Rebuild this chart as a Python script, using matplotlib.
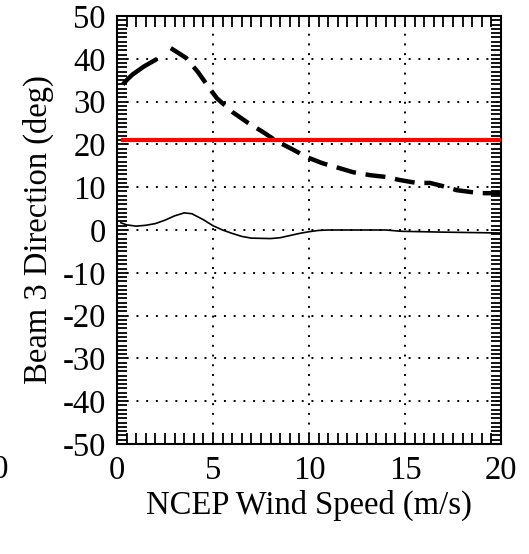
import numpy as np
import matplotlib
matplotlib.use('Agg')
import matplotlib.pyplot as plt
from matplotlib.ticker import MultipleLocator

plt.rcParams['font.family'] = 'Liberation Serif'
plt.rcParams['axes.unicode_minus'] = False

# dashed curve
dash_x = [0.3, 0.5, 0.8, 1.4, 2.1, 2.8, 3.6, 4.2, 4.8, 5.2, 6.0, 6.8, 7.6, 8.3, 9.2,
          9.9, 10.7, 11.4, 12.3, 13.2, 14.0, 14.7, 15.6, 16.3, 17.2, 17.7, 18.9, 20.0]
dash_y = [34.0, 35.0, 36.3, 38.2, 40.0, 42.5, 40.2, 37.0, 33.2, 30.8, 27.6, 25.1, 22.9, 20.8, 18.7,
          17.0, 15.6, 14.7, 13.5, 12.8, 12.4, 11.7, 11.0, 11.0, 10.0, 9.3, 8.6, 8.6]

# thin solid curve
solid_x = [0.2, 0.5, 1.0, 1.5, 2.0, 2.5, 3.0, 3.5, 3.9, 4.5, 5.0, 5.5, 6.0, 6.5, 7.0,
           8.0, 8.5, 9.0, 9.5, 10.0, 10.5, 11.0, 14.0, 14.8, 17.0, 20.0]
solid_y = [1.7, 1.2, 0.9, 1.1, 1.5, 2.3, 3.3, 4.0, 3.8, 2.4, 1.0, 0.0, -0.8, -1.5, -1.9,
           -2.0, -1.8, -1.3, -0.8, -0.4, -0.1, 0.0, 0.0, -0.3, -0.5, -0.7]

# red reference line
ref_level = 21
ref_x = [0.3, 20.0]

fig = plt.figure(figsize=(5.29, 5.54), dpi=100)
ax = fig.add_axes([117/529, 1-444/554, 384/529, 428/554])

# first piece of the dashed curve is drawn unbroken
ax.plot(dash_x[:5], dash_y[:5], color='black', lw=3.2, solid_capstyle='butt', zorder=3)
ax.plot(dash_x[5:], dash_y[5:], color='black', lw=3.2, dashes=(4.5, 2.2),
        solid_capstyle='butt', zorder=3)
ax.plot(solid_x, solid_y, color='black', lw=1.2, zorder=3)
ax.plot(ref_x, [ref_level, ref_level], color='#ff0000', lw=3, zorder=4)

ax.set_xlim(0, 20)
ax.set_ylim(-50, 50)
ax.xaxis.set_major_locator(MultipleLocator(5))
ax.xaxis.set_minor_locator(MultipleLocator(0.5))
ax.yaxis.set_major_locator(MultipleLocator(10))
ax.yaxis.set_minor_locator(MultipleLocator(1))
ax.tick_params(which='both', direction='in', top=True, right=True, width=1.3, labelsize=23.5)
ax.tick_params(axis='x', which='both', length=8, pad=8)
ax.tick_params(axis='y', which='both', length=7, pad=8)
ax.grid(True, which='major', color='black', linestyle=(0, (1, 4)), lw=1.4)
for s in ax.spines.values():
    s.set_linewidth(1.5)

ax.set_xlabel('NCEP Wind Speed (m/s)', fontsize=23.5, labelpad=3)
ax.set_ylabel('Beam 3 Direction (deg)', fontsize=23.5, labelpad=6)

# edge of neighbouring panel's tick label
fig.text(9/529, 1-470/554, '20', ha='right', va='center', fontsize=23.5)

fig.savefig('out.png', dpi=100)
